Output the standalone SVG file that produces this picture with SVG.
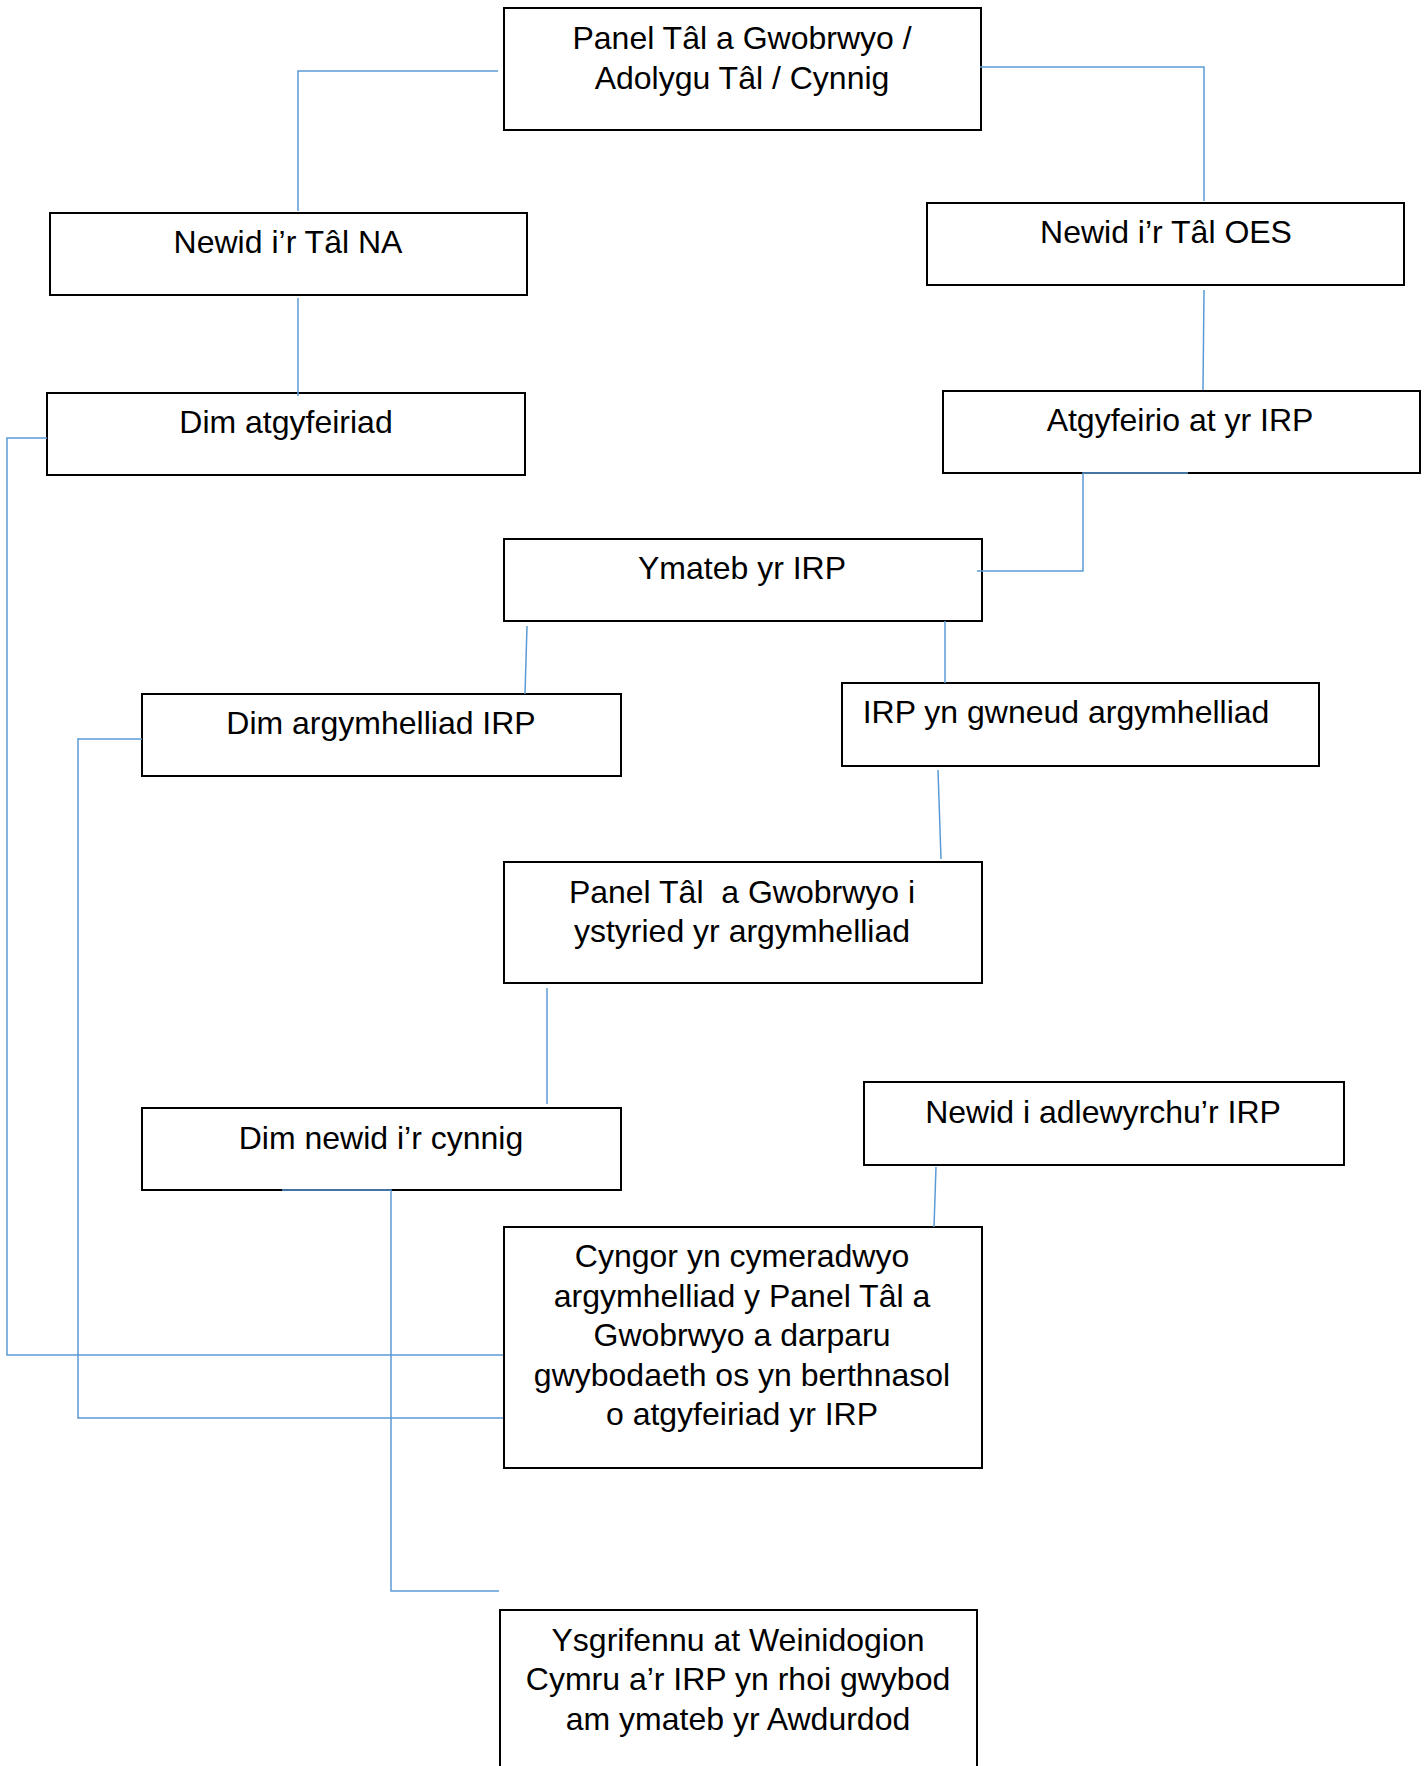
<svg xmlns="http://www.w3.org/2000/svg" width="1427" height="1766" viewBox="0 0 1427 1766">
<style>
.box{fill:#fff;stroke:#000;stroke-width:2}
.t{font-family:"Liberation Sans",Arial,sans-serif;font-size:32px;fill:#000;text-anchor:middle}
.c{fill:none;stroke:#5B9BD5;stroke-width:1.5}
</style>
<rect width="1427" height="1766" fill="#fff"/>
<g id="n1"><rect class="box" x="504" y="8" width="477" height="122"/>
<text class="t" x="742" y="49">Panel Tâl a Gwobrwyo /</text>
<text class="t" x="742" y="89">Adolygu Tâl / Cynnig</text></g>
<g id="n2"><rect class="box" x="50" y="213" width="477" height="82"/>
<text class="t" x="288" y="253">Newid i’r Tâl NA</text></g>
<g id="n3"><rect class="box" x="927" y="203" width="477" height="82"/>
<text class="t" x="1166" y="243">Newid i’r Tâl OES</text></g>
<g id="n4"><rect class="box" x="47" y="393" width="478" height="82"/>
<text class="t" x="286" y="433">Dim atgyfeiriad</text></g>
<g id="n5"><rect class="box" x="943" y="391" width="477" height="82"/>
<text class="t" x="1180" y="431">Atgyfeirio at yr IRP</text></g>
<g id="n6"><rect class="box" x="504" y="539" width="478" height="82"/>
<text class="t" x="742" y="579">Ymateb yr IRP</text></g>
<g id="n7"><rect class="box" x="142" y="694" width="479" height="82"/>
<text class="t" x="381" y="734">Dim argymhelliad IRP</text></g>
<g id="n8"><rect class="box" x="842" y="683" width="477" height="83"/>
<text class="t" x="1066" y="723">IRP yn gwneud argymhelliad</text></g>
<g id="n9"><rect class="box" x="504" y="862" width="478" height="121"/>
<text class="t" x="742" y="903" xml:space="preserve">Panel Tâl  a Gwobrwyo i</text>
<text class="t" x="742" y="942">ystyried yr argymhelliad</text></g>
<g id="n10"><rect class="box" x="142" y="1108" width="479" height="82"/>
<text class="t" x="381" y="1149">Dim newid i’r cynnig</text></g>
<g id="n11"><rect class="box" x="864" y="1082" width="480" height="83"/>
<text class="t" x="1103" y="1123">Newid i adlewyrchu’r IRP</text></g>
<g id="n12"><rect class="box" x="504" y="1227" width="478" height="241"/>
<text class="t" x="742" y="1267">Cyngor yn cymeradwyo</text>
<text class="t" x="742" y="1307">argymhelliad y Panel Tâl a</text>
<text class="t" x="742" y="1346">Gwobrwyo a darparu</text>
<text class="t" x="742" y="1386">gwybodaeth os yn berthnasol</text>
<text class="t" x="742" y="1425">o atgyfeiriad yr IRP</text></g>
<g id="n13"><rect class="box" x="500" y="1610" width="477" height="180"/>
<text class="t" x="738" y="1651">Ysgrifennu at Weinidogion</text>
<text class="t" x="738" y="1690">Cymru a’r IRP yn rhoi gwybod</text>
<text class="t" x="738" y="1730">am ymateb yr Awdurdod</text></g>
<g id="connectors">
<path class="c" d="M498,71 H298 V211"/>
<path class="c" d="M980,67 H1204 V201"/>
<path class="c" d="M298,298 V396"/>
<path class="c" d="M1204,290 L1203,390"/>
<path class="c" d="M1188,473 H1083 V571 H977"/>
<path class="c" d="M527,626 L525,694"/>
<path class="c" d="M945,621 V683"/>
<path class="c" d="M938,770 L941,859"/>
<path class="c" d="M547,988 V1104"/>
<path class="c" d="M936,1167 L934,1227"/>
<path class="c" d="M47,438 H7 V1355 H503"/>
<path class="c" d="M142,739 H78 V1418 H503"/>
<path class="c" d="M282,1190 H391 V1591 H499"/>
</g>
</svg>
